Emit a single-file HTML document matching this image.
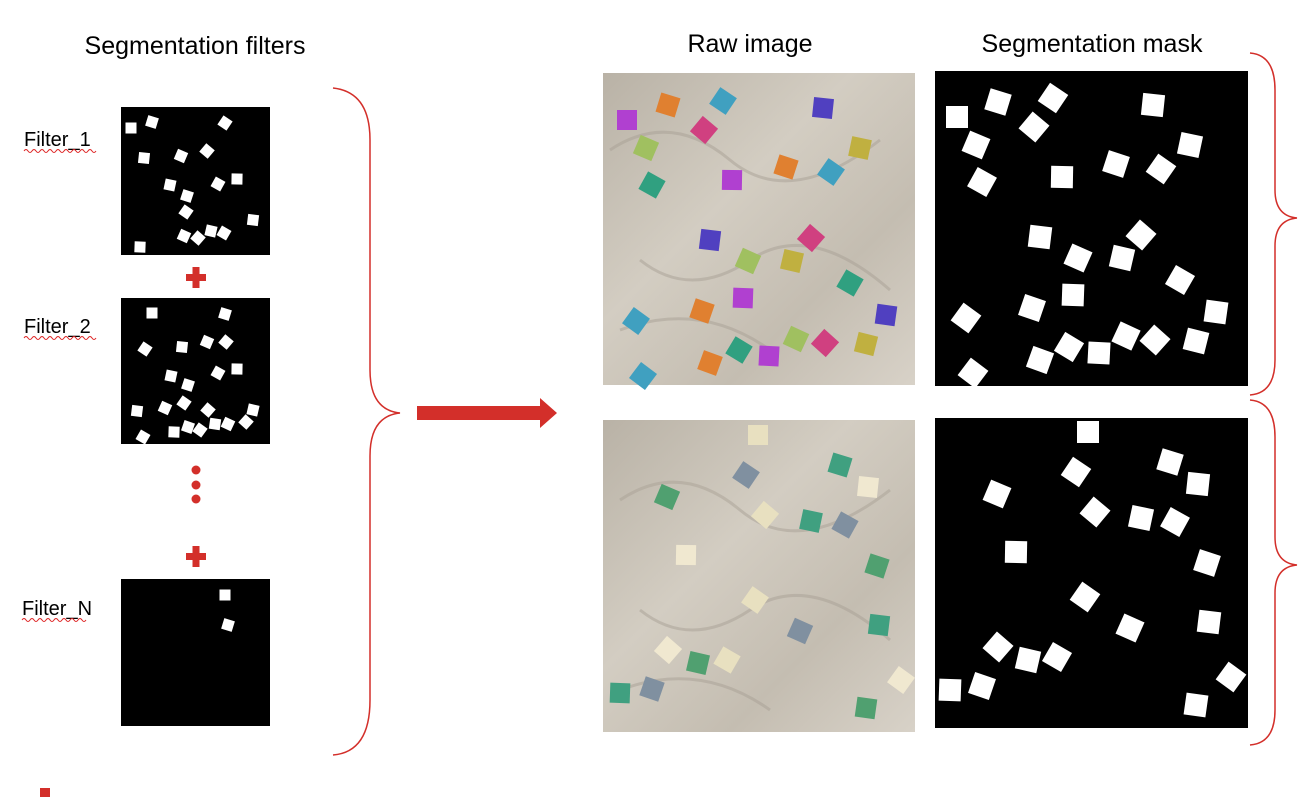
<!DOCTYPE html>
<html><head><meta charset="utf-8">
<style>
html,body{margin:0;padding:0;background:#fff;}
svg{display:block;font-family:"Liberation Sans",sans-serif;}
</style></head>
<body>
<svg id="fig" width="1316" height="810" viewBox="0 0 1316 810">
<defs>
<linearGradient id="tex1" x1="0" y1="0" x2="1" y2="1">
<stop offset="0" stop-color="#b9b2a6"/><stop offset="0.4" stop-color="#d3cdc2"/><stop offset="0.7" stop-color="#c4bdb1"/><stop offset="1" stop-color="#d8d2c8"/>
</linearGradient>
</defs>
<text x="195" y="54" font-size="25" text-anchor="middle">Segmentation filters</text>
<text x="750" y="52" font-size="25" text-anchor="middle">Raw image</text>
<text x="1092" y="52" font-size="25" text-anchor="middle">Segmentation mask</text>

<rect x="121" y="107" width="149" height="148" fill="#000"/>
<rect x="121" y="298" width="149" height="146" fill="#000"/>
<rect x="121" y="579" width="149" height="147" fill="#000"/>
<text x="24" y="146" font-size="20">Filter_1</text>
<text x="24" y="333" font-size="20">Filter_2</text>
<text x="22" y="615" font-size="20">Filter_N</text>
<path d="M24 151 q2 -3 4 0 t4 0 t4 0 t4 0 t4 0 t4 0 t4 0 t4 0 t4 0 t4 0 t4 0 t4 0 t4 0 t4 0 t4 0 t4 0 t4 0 t4 0" fill="none" stroke="#d22" stroke-width="1"/>
<path d="M24 338 q2 -3 4 0 t4 0 t4 0 t4 0 t4 0 t4 0 t4 0 t4 0 t4 0 t4 0 t4 0 t4 0 t4 0 t4 0 t4 0 t4 0 t4 0 t4 0" fill="none" stroke="#d22" stroke-width="1"/>
<path d="M22 620 q2 -3 4 0 t4 0 t4 0 t4 0 t4 0 t4 0 t4 0 t4 0 t4 0 t4 0 t4 0 t4 0 t4 0 t4 0 t4 0 t4 0" fill="none" stroke="#d22" stroke-width="1"/>

<g fill="#d32f2a"><rect x="186" y="274" width="20" height="7"/><rect x="192.5" y="267" width="7" height="21"/></g>
<g fill="#d32f2a"><rect x="186" y="553" width="20" height="7"/><rect x="192.5" y="546" width="7" height="21"/></g>
<g fill="#d32f2a"><circle cx="196" cy="470" r="4.5"/><circle cx="196" cy="485" r="4.5"/><circle cx="196" cy="499" r="4.5"/></g>

<path d="M333 88 Q370 92 370 140 L370 370 Q370 410 400 413 Q370 416 370 456 L370 700 Q370 752 333 755" fill="none" stroke="#d32f2a" stroke-width="1.5"/>
<path d="M417 406 L540 406 L540 398 L557 413 L540 428 L540 420 L417 420 Z" fill="#d32f2a"/>

<rect x="603" y="73" width="312" height="312" fill="url(#tex1)"/>
<rect x="603" y="420" width="312" height="312" fill="url(#tex1)"/>
<g fill="none" stroke="#a9a196" stroke-width="3" opacity="0.5">
<path d="M610 150 q60 -40 120 10 t150 -20"/><path d="M640 260 q50 40 110 0 t140 30"/><path d="M620 330 q80 -30 150 20"/>
<path d="M620 500 q60 -40 120 10 t150 -20"/><path d="M640 610 q50 40 110 0 t140 30"/><path d="M620 690 q80 -30 150 20"/>
</g>
<rect x="935" y="71" width="313" height="315" fill="#000"/>
<rect x="935" y="418" width="313" height="310" fill="#000"/>

<path d="M1250 53 Q1275 55 1275 90 L1275 190 Q1275 216 1297 218 Q1275 220 1275 246 L1275 360 Q1275 393 1250 395" fill="none" stroke="#d32f2a" stroke-width="1.5"/>
<path d="M1250 400 Q1275 402 1275 437 L1275 537 Q1275 563 1297 565 Q1275 567 1275 593 L1275 710 Q1275 743 1250 745" fill="none" stroke="#d32f2a" stroke-width="1.5"/>
<rect x="40" y="788" width="10" height="9" fill="#d32f2a"/>
<g id="marks"></g>
</svg>
<script>
const filter1X=[131,152,225,144,181,207,170,218,237,187,186,253,184,198,211,224,140];
const filter1Y=[128,122,123,158,156,151,185,184,179,196,212,220,236,238,231,233,247];
const filter2X=[152,225,145,182,207,226,171,218,237,188,184,137,165,208,253,143,174,188,200,215,228,246];
const filter2Y=[313,314,349,347,342,342,376,373,369,385,403,411,408,410,410,437,432,427,430,424,424,422];
const filterNX=[225,228];
const filterNY=[595,625];
const mask1X=[957,998,1053,1153,976,1034,1190,982,1062,1116,1161,1040,1078,1141,1122,1180,1073,1032,966,1216,1126,1155,1196,1069,1099,1040,973];
const mask1Y=[117,102,98,105,145,127,145,182,177,164,169,237,258,235,258,280,295,308,318,312,336,340,341,347,353,360,373];
const mask2X=[1088,1170,1076,1198,997,1095,1141,1175,1016,1207,1085,1209,1130,998,1028,1057,950,982,1231,1196];
const mask2Y=[432,462,472,484,494,512,518,522,552,563,597,622,628,647,660,657,690,686,677,705];
const palette=["#b040d0","#e08030","#40a0c0","#5040c0","#a0c060","#d04080","#c0b040","#30a080"];
const palette2=["#e8e0c0","#40a080","#8090a0","#f0e8d0","#50a070"];
const NS="http://www.w3.org/2000/svg";
const g=document.getElementById('marks');
function sq(cx,cy,s,fill,rot,name){
  const r=document.createElementNS(NS,'rect');
  r.setAttribute('x',cx-s/2);r.setAttribute('y',cy-s/2);
  r.setAttribute('width',s);r.setAttribute('height',s);
  r.setAttribute('fill',fill);
  r.setAttribute('transform','rotate('+rot+' '+cx+' '+cy+')');
  
  
  g.appendChild(r);
}
function draw(xs,ys,s,name,fillFn,dx,dy){
  for(let i=0;i<xs.length;i++){
    sq(xs[i]+(dx||0),ys[i]+(dy||0),s,fillFn(i),(i*17)%45,name);
  }
}
draw(filter1X,filter1Y,11,'filter-1-square',()=> '#fff');
draw(filter2X,filter2Y,11,'filter-2-square',()=> '#fff');
draw(filterNX,filterNY,11,'filter-n-square',()=> '#fff');
draw(mask1X,mask1Y,22,'mask-1-square',()=> '#fff');
draw(mask2X,mask2Y,22,'mask-2-square',()=> '#fff');
draw(mask1X,mask1Y,20,'raw-1-object',i=>palette[i%palette.length],-330,3);
draw(mask2X,mask2Y,20,'raw-2-object',i=>palette2[i%palette2.length],-330,3);
</script>
</body></html>
